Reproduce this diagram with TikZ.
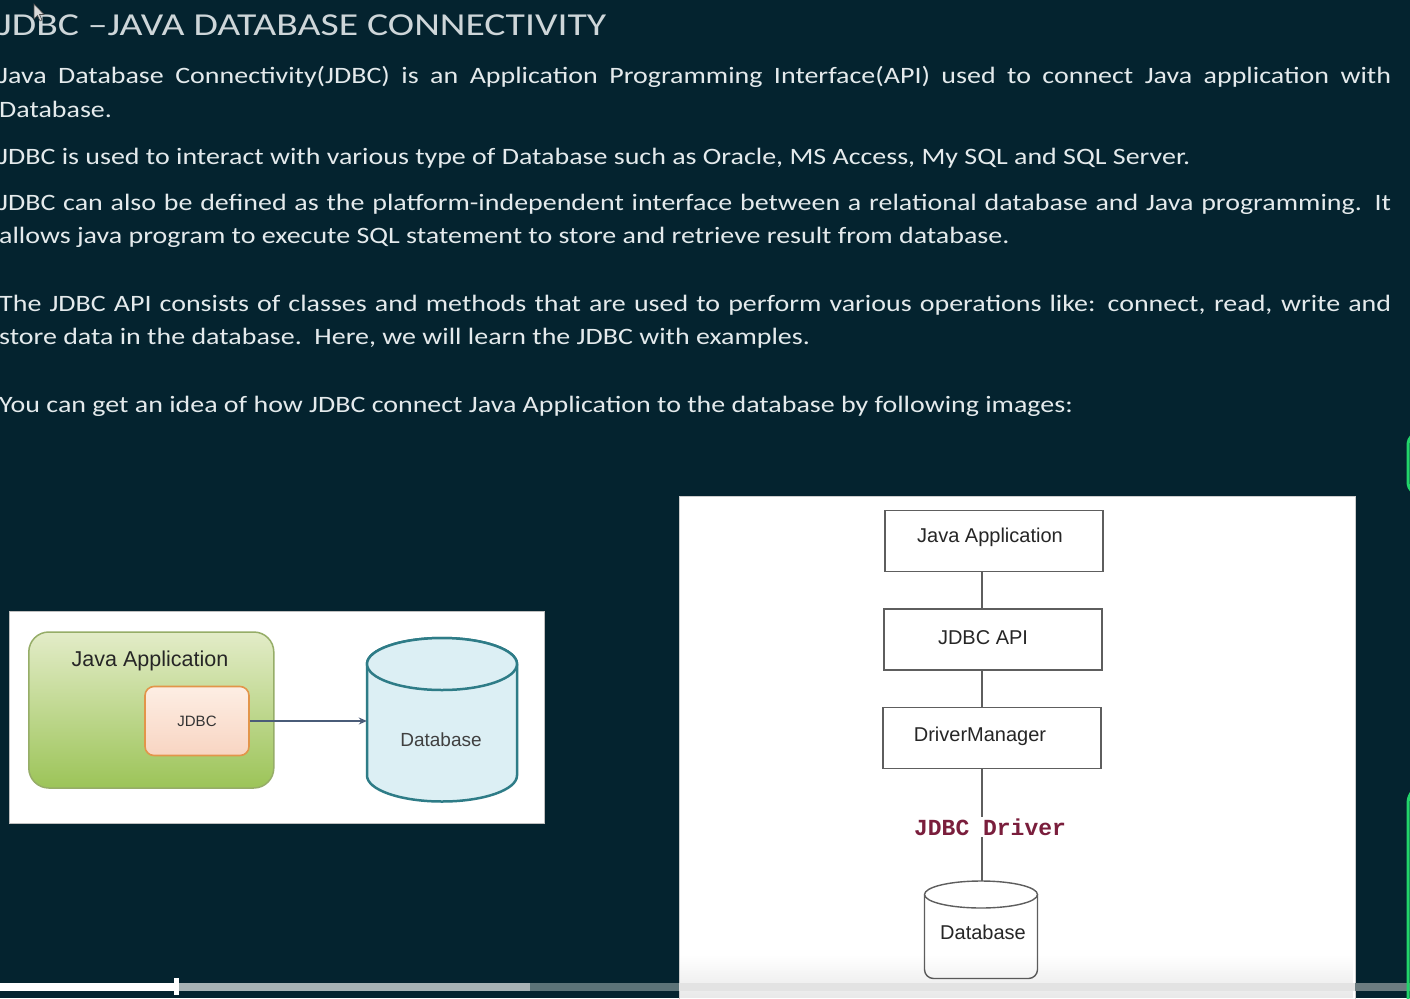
\documentclass[tikz,border=0pt]{standalone}
\usepackage{fontspec}
\usepackage{graphicx}
\setmainfont{Carlito}
\newfontfamily\arialf{Liberation Sans}
\newfontfamily\courf{Liberation Mono}
\usetikzlibrary{arrows.meta,fadings}
\definecolor{bg}{HTML}{04232F}
\definecolor{txt}{HTML}{E4EAEC}
\definecolor{boxgray}{HTML}{5E5E5E}
\definecolor{greenedge}{HTML}{96AD68}
\definecolor{greentop}{HTML}{E3ECC8}
\definecolor{greenbot}{HTML}{9CC458}
\definecolor{peachtop}{HTML}{FDEEE4}
\definecolor{peachbot}{HTML}{F8D5C2}
\definecolor{peachedge}{HTML}{E2954A}
\definecolor{dbfill}{HTML}{DCEFF4}
\definecolor{dbedge}{HTML}{2E7C87}
\definecolor{arrowc}{HTML}{4A5C78}
\definecolor{drvred}{HTML}{7A1E3C}
\definecolor{neon}{HTML}{22D36A}
\definecolor{barlight}{HTML}{A7B2B5}
\definecolor{bardark}{HTML}{5C7378}
\definecolor{barright}{HTML}{6C7C80}
\newcommand{\bodyline}[1]{\scalebox{1.19}[1]{#1}}
\newcommand{\justline}[1]{\scalebox{1.19}[1]{\makebox[1169.7pt][s]{#1}}}
\tikzset{
  para/.style={anchor=base west, inner sep=0, text=txt, font=\fontsize{23.5}{28}\selectfont},
  titletext/.style={anchor=base west, inner sep=0, text=txt!90!bg, font=\fontsize{32}{40}\selectfont},
  panel/.style={fill=white, draw=#1, line width=1},
  flowbox/.style={draw=boxgray, line width=1.4, minimum width=218, minimum height=61, inner sep=0, fill=white},
  flowtext/.style={font=\arialf\fontsize{20}{22}\selectfont, text=black!85},
  dbanchor/.style={inner sep=0, minimum width=#1},
}
% cylinder with elliptic bottom: centre x, top y, bottom y, x radius, y radius, style
\newcommand{\cyl}[6]{%
  \filldraw[#6] (#1-#4,#2+#5) -- (#1-#4,#3-#5)
     arc[start angle=180, end angle=0, x radius=#4, y radius=#5]
     -- (#1+#4,#2+#5)
     arc[start angle=0, end angle=-180, x radius=#4, y radius=#5] -- cycle;
  \draw[#6] (#1,#2+#5) ellipse[x radius=#4, y radius=#5];}
% cylinder with flat rounded bottom
\newcommand{\flatcyl}[6]{%
  \filldraw[#6, rounded corners=9] (#1-#4,#2+#5) -- (#1-#4,#3) -- (#1+#4,#3) -- (#1+#4,#2+#5);
  \filldraw[#6] (#1,#2+#5) ellipse[x radius=#4, y radius=#5];}
\begin{document}
\begin{tikzpicture}[x=1pt,y=-1pt]
\useasboundingbox (0,0) rectangle (1410,998);
\clip (0,0) rectangle (1410,998);
\fill[bg] (0,0) rectangle (1410,998);

% title and paragraphs
\node[titletext] (title) at (-1,35.3) {\scalebox{1.24}[1]{JDBC –JAVA DATABASE CONNECTIVITY}};
\node[para] (p1a) at (-1,84) {\justline{Java Database Connectivity(JDBC) is an Application Programming Interface(API) used to connect Java application with}};
\node[para] (p1b) at (-1,117.5) {\bodyline{Database.}};
\node[para] (p2) at (-1,164) {\bodyline{JDBC is used to interact with various type of Database such as Oracle, MS Access, My SQL and SQL Server.}};
\node[para] (p3a) at (-1,210) {\justline{JDBC can also be defined as the platform-independent interface between a relational database and Java programming. It}};
\node[para] (p3b) at (-1,243.5) {\bodyline{allows java program to execute SQL statement to store and retrieve result from database.}};
\node[para] (p4a) at (-1,311) {\justline{The JDBC API consists of classes and methods that are used to perform various operations like: connect, read, write and}};
\node[para] (p4b) at (-1,344) {\bodyline{store data in the database.\ \ Here, we will learn the JDBC with examples.}};
\node[para] (p5) at (-1,412) {\bodyline{You can get an idea of how JDBC connect Java Application to the database by following images:}};

% left panel
\draw[panel=black!25] (9,611) rectangle (544,823);
\node[draw=greenedge, line width=1.5, rounded corners=20, top color=greentop, bottom color=greenbot,
      minimum width=245, minimum height=156, inner sep=0] (app) at (151.3,710) {};
\node[font=\arialf\fontsize{21.5}{24}\selectfont, text=black!85] (apptext) at (150,660.5) {Java Application};
\node[draw=peachedge, line width=1.6, rounded corners=9, top color=peachtop, bottom color=peachbot,
      minimum width=104, minimum height=69, inner sep=0, font=\arialf\fontsize{15}{17}\selectfont, text=black!80] (jdbc) at (197,721) {JDBC};
\cyl{442}{638}{801.5}{75}{26}{draw=dbedge, line width=2.5, fill=dbfill}
\node[dbanchor=150, minimum height=164] (db1) at (442,720) {};
\node[font=\arialf\fontsize{19}{21}\selectfont, text=black!75] (db1text) at (441,740) {Database};
\draw[arrowc, line width=1.8, -{Stealth[length=8pt,width=7pt]}] (jdbc.east) -- (jdbc.east -| db1.west);

% right panel
\fill[white] (679,496) rectangle (1355,1000);
\draw[black!20, line width=1] (679,1000) -- (679,496) -- (1355,496) -- (1355,1000);
\node[flowbox] (ja) at (994,541) {};
\node[flowtext] (jatext) at (990,537) {Java Application};
\node[flowbox] (api) at (993,639.5) {};
\node[flowtext] (apitext) at (983,638) {JDBC API};
\node[flowbox] (dm) at (992,738) {};
\node[flowtext] (dmtext) at (980,736) {DriverManager};
\flatcyl{981}{881}{978.5}{56.5}{13.5}{draw=boxgray, line width=1.4, fill=white}
\node[dbanchor=113, minimum height=98] (db2) at (982,930) {};
\node[flowtext] (db2text) at (983,932.5) {Database};
\draw[boxgray, line width=1.4] (ja.south -| db2.north) -- (api.north -| db2.north);
\draw[boxgray, line width=1.4] (api.south -| db2.north) -- (dm.north -| db2.north);
\draw[boxgray, line width=1.4] (dm.south -| db2.north) -- (db2.north);
\node[fill=white, inner sep=2, font=\courf\bfseries\fontsize{23}{25}\selectfont, text=drvred] (drv) at (990,827) {JDBC Driver};

% video overlay: bottom shading and progress bar
\fill[black, opacity=0.09, path fading=north] (680,955) rectangle (1354,998);
\fill[white] (0,983) rectangle (176,991);
\fill[white] (174,978) rectangle (179,995);
\fill[barlight] (179,983) rectangle (530,991);
\fill[bardark] (530,983) rectangle (679,991);
\fill[black!11] (679,983) rectangle (1355,991);
\fill[barright] (1355,983) rectangle (1410,991);

% green edges on the right
\draw[neon, line width=3, rounded corners=14] (1440,431) -- (1408,431) -- (1408,496) -- (1440,496);
\draw[neon, line width=3, rounded corners=18] (1440,785) -- (1408,785) -- (1408,1010);

% mouse cursor
\filldraw[fill=white!85!black, draw=black!70, line width=0.6] (34,4) -- (34,19) -- (37.5,15.5) -- (40,21) -- (42,20) -- (39.5,14.5) -- (44,14.5) -- cycle;
\end{tikzpicture}
\end{document}
